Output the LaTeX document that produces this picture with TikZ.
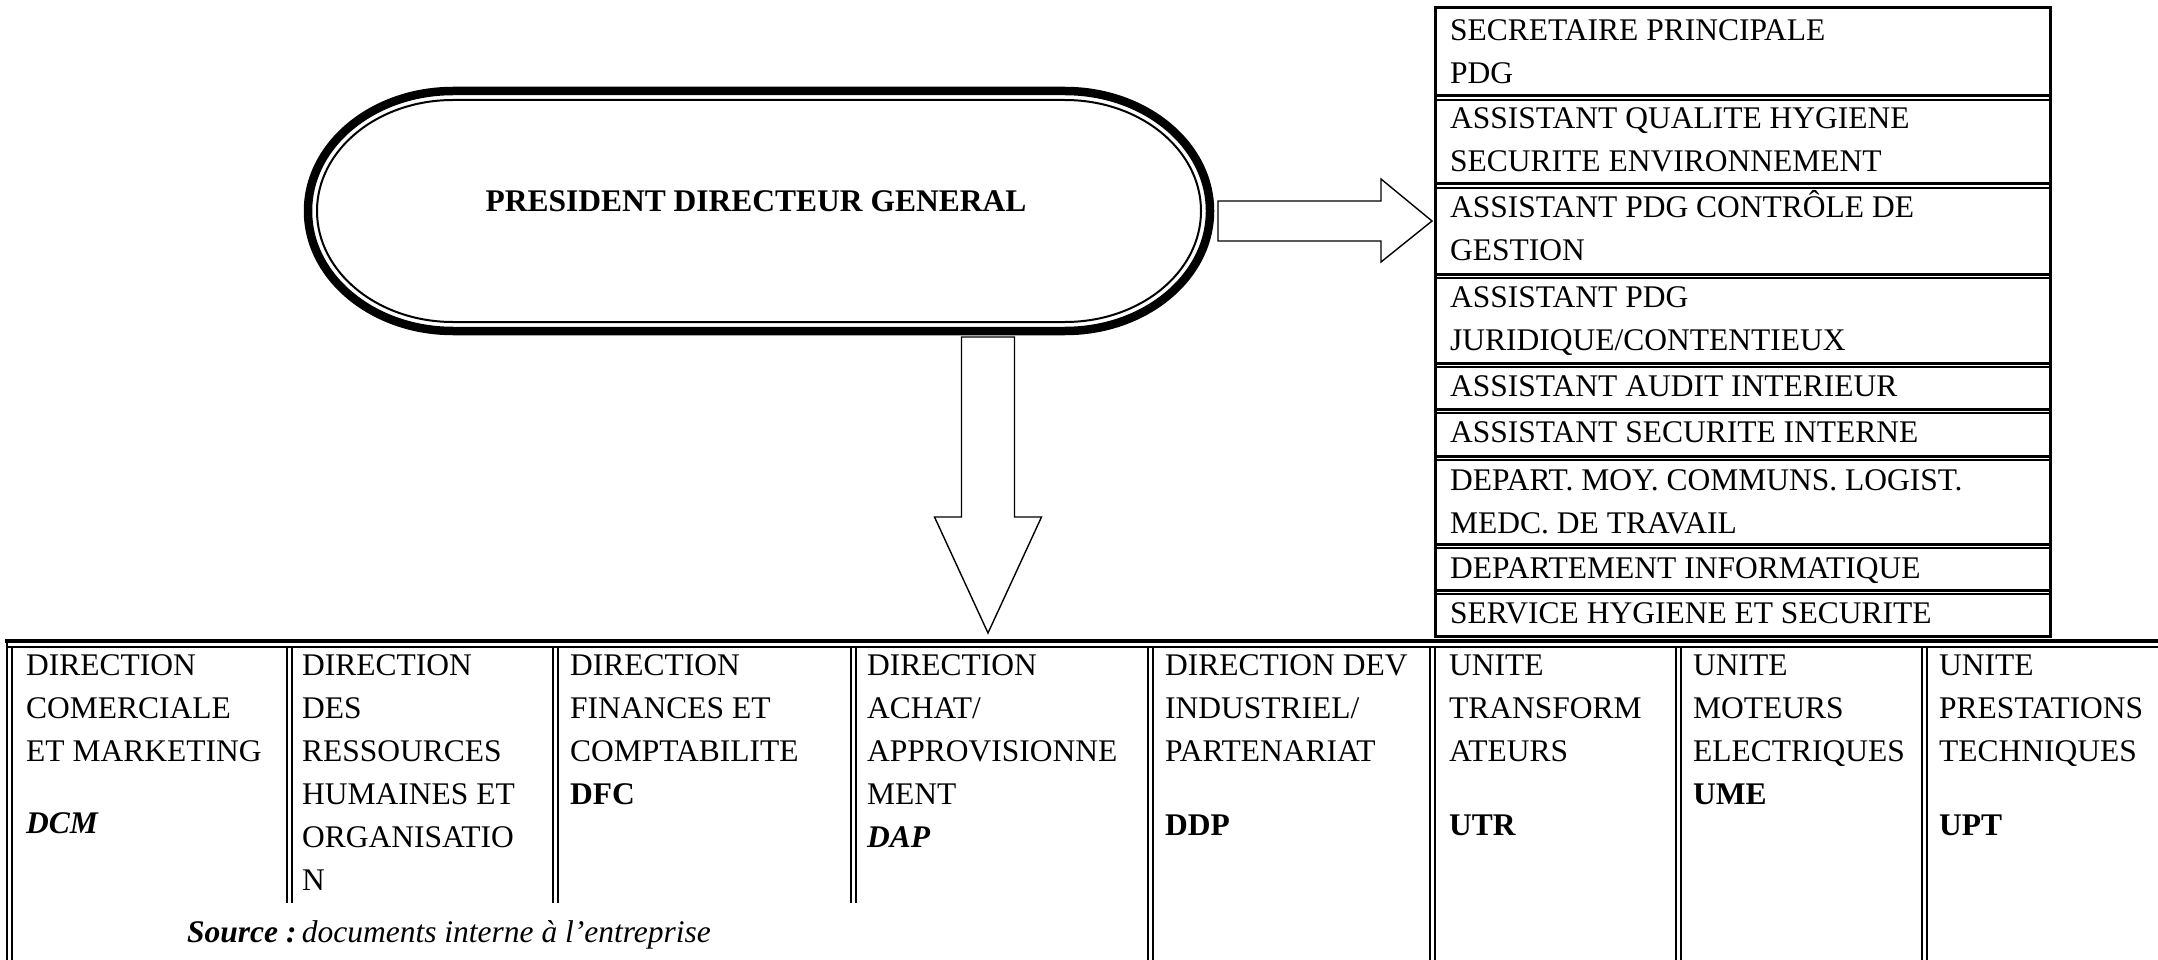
\documentclass[tikz,border=0pt]{standalone}
\usepackage{fontspec}
\setmainfont{Liberation Serif}
\usetikzlibrary{calc}
\begin{document}
\begin{tikzpicture}[x=1pt,y=-1pt,
  txt/.style={anchor=base west,inner sep=0pt,align=left,font=\fontsize{31.5}{43}\selectfont},
  blockarrow/.style={draw=black,line width=1.4pt,fill=white,line join=miter},
  thickrule/.style={line width=3pt},
  thinrule/.style={line width=1.2pt},
  stadouter/.style={line width=8.5pt},
  stadinner/.style={line width=2pt}
]
\useasboundingbox (0,0) rectangle (2158,960);

% ---- President box (stadium with double border)
\draw[stadouter] (453,91) -- (1065,91) arc[start angle=90,end angle=-90,x radius=145pt,y radius=120pt]
  -- (453,331) arc[start angle=270,end angle=90,x radius=145pt,y radius=120pt] -- cycle;
\draw[stadinner] (453,100) -- (1065,100) arc[start angle=90,end angle=-90,x radius=136pt,y radius=111pt]
  -- (453,322) arc[start angle=270,end angle=90,x radius=136pt,y radius=111pt] -- cycle;
\node[txt,anchor=base,font=\fontsize{31.5}{43}\selectfont\bfseries] (pdg) at (756,212) {PRESIDENT DIRECTEUR GENERAL};

% anchor points of the block arrows
\coordinate (pdgE) at (1218,221);
\coordinate (boxW) at (1432,221);
\coordinate (pdgS) at (988,337);
\coordinate (tabN) at (988,633);

% ---- right block arrow
\draw[blockarrow] ($(pdgE)+(0,-20)$) -- ($(boxW)+(-51,-20)$) -- ($(boxW)+(-51,-42)$) -- (boxW)
  -- ($(boxW)+(-51,41)$) -- ($(boxW)+(-51,20)$) -- ($(pdgE)+(0,20)$) -- cycle;

% ---- down block arrow
\draw[blockarrow] ($(pdgS)+(-26.5,0)$) -- ($(pdgS)+(26.5,0)$) -- ($(tabN)+(26.5,-116)$) -- ($(tabN)+(53.5,-116)$)
  -- (tabN) -- ($(tabN)+(-53.5,-116)$) -- ($(tabN)+(-26.5,-116)$) -- cycle;

% ---- right column of staff boxes
\draw[thickrule] (1435,8) rectangle (2050,636);
\foreach \yy in {96,184,274,363,409,456,544,590} {
  \draw[thickrule] (1435,\yy) -- (2050,\yy);
  \draw[thinrule] (1435,\yy+4) -- (2050,\yy+4);
}
% (base anchor = baseline of the last line)
\node[txt] (r1) at (1450,84) {SECRETAIRE PRINCIPALE\\PDG};
\node[txt] (r2) at (1450,172) {ASSISTANT QUALITE HYGIENE\\SECURITE ENVIRONNEMENT};
\node[txt] (r3) at (1450,260) {ASSISTANT PDG CONTRÔLE DE\\GESTION};
\node[txt] (r4) at (1450,350) {ASSISTANT PDG\\JURIDIQUE/CONTENTIEUX};
\node[txt] (r5) at (1450,396) {ASSISTANT AUDIT INTERIEUR};
\node[txt] (r6) at (1450,442) {ASSISTANT SECURITE INTERNE};
\node[txt] (r7) at (1450,533) {DEPART. MOY. COMMUNS. LOGIST.\\MEDC. DE TRAVAIL};
\node[txt] (r8) at (1450,578) {DEPARTEMENT INFORMATIQUE};
\node[txt] (r9) at (1450,623) {SERVICE HYGIENE ET SECURITE};

% ---- bottom table
\draw[line width=3.5pt] (5,641) -- (2158,641);
\draw[thinrule] (7,647) -- (2158,647);
\draw[thinrule] (7,639) -- (7,960);
\draw[thinrule] (12,647) -- (12,960);
\foreach \xx in {287,553,851} {
  \draw[thinrule] (\xx,647) -- (\xx,903);
  \draw[thinrule] (\xx+5,647) -- (\xx+5,903);
}
\foreach \xx in {1148,1430,1676,1922} {
  \draw[thinrule] (\xx,647) -- (\xx,960);
  \draw[thinrule] (\xx+5,647) -- (\xx+5,960);
}

\node[txt] (c1) at (26,761) {DIRECTION\\COMERCIALE\\ET MARKETING};
\node[txt] (c1a) at (26,833) {\textbf{\textit{DCM}}};
\node[txt] (c2) at (302,890) {DIRECTION\\DES\\RESSOURCES\\HUMAINES ET\\ORGANISATIO\\N};
\node[txt] (c3) at (570,804) {DIRECTION\\FINANCES ET\\COMPTABILITE\\\textbf{DFC}};
\node[txt] (c4) at (867,847) {DIRECTION\\ACHAT/\\APPROVISIONNE\\MENT\\\textbf{\textit{DAP}}};
\node[txt] (c5) at (1165,761) {DIRECTION DEV\\INDUSTRIEL/\\PARTENARIAT};
\node[txt] (c5a) at (1165,835) {\textbf{DDP}};
\node[txt] (c6) at (1449,761) {UNITE\\TRANSFORM\\ATEURS};
\node[txt] (c6a) at (1449,835) {\textbf{UTR}};
\node[txt] (c7) at (1693,804) {UNITE\\MOTEURS\\ELECTRIQUES\\\textbf{UME}};
\node[txt] (c8) at (1939,761) {UNITE\\PRESTATIONS\\TECHNIQUES};
\node[txt] (c8a) at (1939,835) {\textbf{UPT}};

\node[txt] (src) at (187,942) {\textbf{\textit{Source :}}\,\textit{documents interne à l’entreprise}};
\end{tikzpicture}
\end{document}
